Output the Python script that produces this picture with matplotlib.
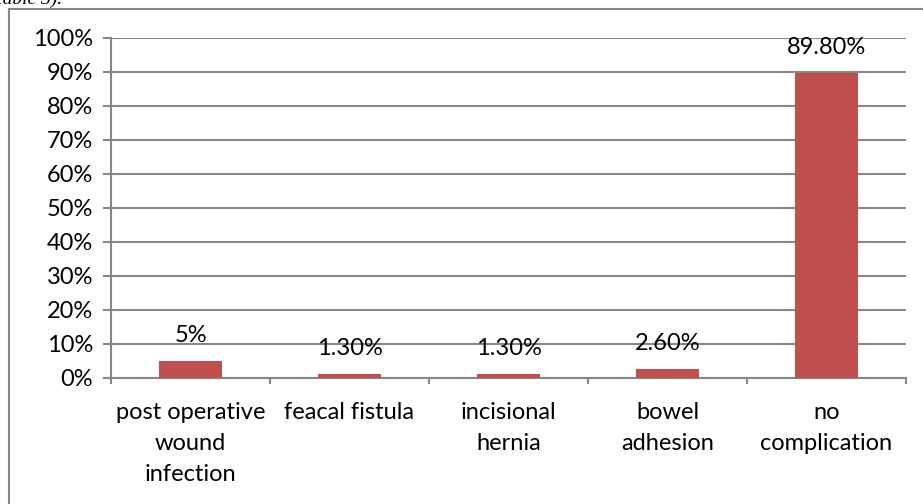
import matplotlib
matplotlib.use("Agg")
import matplotlib.pyplot as plt
from matplotlib.ticker import PercentFormatter, FixedLocator
from matplotlib.lines import Line2D

plt.rcParams["font.family"] = ["Lato", "DejaVu Sans"]

categories = ["post operative\nwound\ninfection", "feacal fistula", "incisional\nhernia",
              "bowel\nadhesion", "no\ncomplication"]
values = [0.05, 0.013, 0.013, 0.026, 0.898]
value_labels = ["5%", "1.30%", "1.30%", "2.60%", "89.80%"]

W, H = 923, 504
fig = plt.figure(figsize=(W / 100, H / 100), dpi=100)
ax = fig.add_axes([111 / W, 1 - 378 / H, (906 - 111) / W, (378 - 38) / H])

grey = "#878787"
bar_color = "#C0504D"
fs = 17

x = range(len(categories))
bars = ax.bar(x, values, width=0.4, color=bar_color, zorder=3)

# data labels, baseline ~19 px above bar top
for b, lab in zip(bars, value_labels):
    ax.annotate(lab, xy=(b.get_x() + b.get_width() / 2, b.get_height()),
                xytext=(0, 13.5), textcoords="offset points",
                ha="center", va="baseline", fontsize=fs, color="black", zorder=4)

ax.set_xlim(-0.5, len(categories) - 0.5)
ax.set_ylim(0, 1.0)
ax.set_yticks([i / 10 for i in range(11)])
ax.yaxis.set_major_formatter(PercentFormatter(1.0, decimals=0))
ax.yaxis.grid(True, color=grey, lw=1.5, zorder=0)
ax.set_axisbelow(True)

ax.set_xticks(list(x))
ax.set_xticklabels(categories, fontsize=fs, linespacing=1.6)
ax.xaxis.set_minor_locator(FixedLocator([i - 0.5 for i in range(len(categories) + 1)]))
ax.tick_params(axis="x", which="major", length=0, pad=17)
ax.tick_params(axis="x", which="minor", length=4.5, width=1.5, color=grey, direction="out")
ax.tick_params(axis="y", length=5.8, width=1.5, color=grey, labelsize=fs, pad=7.2)

for s in ["top", "right"]:
    ax.spines[s].set_visible(False)
for s in ["left", "bottom"]:
    ax.spines[s].set_color(grey)
    ax.spines[s].set_linewidth(1.5)

# outer chart border (only top and left visible)
fig.add_artist(Line2D([9 / W, 1.0], [1 - 9 / H, 1 - 9 / H], color=grey, lw=1.5,
                      transform=fig.transFigure))
fig.add_artist(Line2D([9 / W, 9 / W], [0, 1 - 9 / H], color=grey, lw=1.5,
                      transform=fig.transFigure))

# clipped caption text at the very top
fig.text(62 / W, 1 - 4 / H, "(Table 3).", ha="right", va="baseline",
         fontsize=14, style="italic", family="Liberation Serif")

fig.savefig("out.png", dpi=100)
